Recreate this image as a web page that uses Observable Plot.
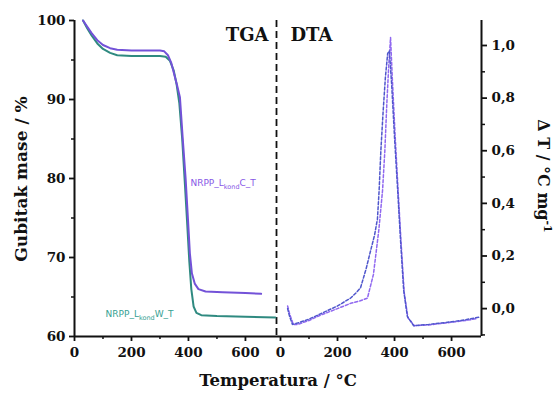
<!DOCTYPE html>
<html><head><meta charset="utf-8">
<script src="https://cdn.jsdelivr.net/npm/d3@7"></script>
<script src="https://cdn.jsdelivr.net/npm/@observablehq/plot@0.6"></script>
<style>
body{margin:0;background:#fff}
#chart{position:relative;width:557px;height:394px}
#chart svg{position:absolute;left:0;top:0;background:transparent;overflow:visible}
</style>
</head><body><div id="chart"></div>
<script>
// TGA — NRPP_L kond C_T (purple)
const tgaTempC = [30,45,60,80,100,125,150,200,250,300,315,328,340,350,360,370,380,390,398,405,412,422,435,460,520,600,655];
const tgaMassC = [100,99.2,98.4,97.5,96.9,96.5,96.3,96.2,96.2,96.2,96.1,95.6,94.6,93.2,91.8,90.3,85,80,75,70.5,68,66.7,66.0,65.7,65.6,65.5,65.4];
// TGA — NRPP_L kond W_T (teal)
const tgaTempW = [30,45,60,80,100,125,150,200,300,320,335,348,358,368,378,388,396,403,410,418,428,445,500,600,705];
const tgaMassW = [100,99,98.1,97.1,96.4,95.9,95.6,95.5,95.5,95.4,94.9,93.7,92,89.5,85,79,74,69.5,66,63.8,63,62.7,62.6,62.5,62.4];
// DTA curve A (purple)
const dtaTempA = [25,32,45,60,100,140,200,246,280,305,326,345,358,366,373,380,386,392,402,413,423,434,447,470,520,600,650,690];
const dtaValA  = [0.01,-0.02,-0.06,-0.06,-0.045,-0.025,0.0,0.02,0.03,0.04,0.13,0.3,0.45,0.6,0.78,0.93,1.03,0.88,0.66,0.44,0.25,0.06,-0.035,-0.065,-0.062,-0.052,-0.045,-0.038];
// DTA curve B (blue)
const dtaTempB = [25,32,42,60,100,140,200,246,265,281,300,316,330,340,346,352,360,368,376,382,390,400,411,421,432,445,467,520,600,650,700];
const dtaValB  = [0.0,-0.03,-0.06,-0.055,-0.04,-0.02,0.01,0.04,0.06,0.08,0.15,0.22,0.28,0.34,0.45,0.6,0.75,0.88,0.97,0.98,0.85,0.65,0.45,0.26,0.07,-0.03,-0.065,-0.06,-0.05,-0.042,-0.032];

const tempTicks = [0,200,400,600];
const tempMinor = [100,300,500];
const massTicks = [60,70,80,90,100];
const massMinor = [65,75,85,95];
const dtaTicks = [0,0.2,0.4,0.6,0.8,1.0];
const dtaMinor = [-0.1,0.1,0.3,0.5,0.7,0.9];

const seriesLabels = ["NRPP_L|kond|C_T", "NRPP_L|kond|W_T"];
const labelTemps = [407, 109];
const labelMass = [79.1, 62.5];

const panelTitles = ["TGA", "DTA"];
const xTitle = "Temperatura / °C";
const yTitleLeft = "Gubitak mase / %";
const yTitleRight = "Δ T / °C mg";

const colC = "#7352d8", colW = "#2f8a80";
const colA = "#9068f0", colB = "#4f56cc";

const curveC = tgaTempC.map((t,i) => ({T:t, v:tgaMassC[i]}));
const curveW = tgaTempW.map((t,i) => ({T:t, v:tgaMassW[i]}));
const curveA = dtaTempA.map((t,i) => ({T:t, v:dtaValA[i]}));
const curveB = dtaTempB.map((t,i) => ({T:t, v:dtaValB[i]}));
const labels = seriesLabels.map((s,i) => ({s, T:labelTemps[i], v:labelMass[i], c:i===0?"#8758e6":"#36a192"}));

const fmt = d => d3.format(".1f")(d).replace(".", ",");
const style = {fontFamily:"'DejaVu Serif', serif", fontWeight:"bold", fontSize:"13.5px", background:"transparent", color:"#111"};
const W = 557, H = 394;

const left = Plot.plot({
  width: W, height: H, marginLeft: 74, marginRight: 281, marginTop: 20, marginBottom: 58,
  style,
  x: {domain:[0,709], label:null}, y: {domain:[60,100], label:null},
  marks: [
    Plot.axisY(massTicks, {tickSize:5, tickPadding:4, strokeWidth:1.8, label:null}),
    Plot.axisY(massMinor, {tickSize:3, strokeWidth:1.5, tickFormat:() => "", label:null}),
    Plot.axisX(tempTicks, {tickSize:5, tickPadding:6, strokeWidth:1.8, label:null}),
    Plot.axisX(tempMinor, {tickSize:3, strokeWidth:1.5, tickFormat:() => "", label:null}),
    Plot.ruleX([0], {strokeWidth:2}),
    Plot.ruleY([60], {strokeWidth:2}),
    Plot.ruleX([709], {strokeWidth:1.8, strokeDasharray:"7,4"}),
    Plot.line(curveW, {x:"T", y:"v", stroke:colW, strokeWidth:2}),
    Plot.line(curveC, {x:"T", y:"v", stroke:colC, strokeWidth:2}),
    Plot.text(labels, {x:"T", y:"v", text:"s", fill:"c", textAnchor:"start", lineAnchor:"bottom", fontSize:9, fontWeight:"normal", fontFamily:"'DejaVu Sans', sans-serif"}),
    Plot.text([panelTitles[0]], {frameAnchor:"top-right", dx:-8, dy:15, lineAnchor:"middle", fontSize:18})
  ]
});

const right = Plot.plot({
  width: W, height: H, marginLeft: 276, marginRight: 76, marginTop: 20, marginBottom: 58,
  style,
  x: {domain:[-14,705], label:null}, y: {domain:[-0.106,1.095], label:null},
  marks: [
    Plot.axisY(dtaTicks, {anchor:"right", tickSize:5, tickPadding:5, strokeWidth:1.8, tickFormat:fmt, label:null}),
    Plot.axisY(dtaMinor.filter(d => d > -0.106), {anchor:"right", tickSize:3, strokeWidth:1.5, tickFormat:() => "", label:null}),
    Plot.axisX(tempTicks, {tickSize:5, tickPadding:6, strokeWidth:1.8, label:null}),
    Plot.axisX(tempMinor, {tickSize:3, strokeWidth:1.5, tickFormat:() => "", label:null}),
    Plot.ruleX([705], {strokeWidth:2}),
    Plot.ruleY([-0.106], {strokeWidth:2}),
    Plot.line(curveA, {x:"T", y:"v", stroke:colA, strokeWidth:1.5, strokeDasharray:"3,2"}),
    Plot.line(curveB, {x:"T", y:"v", stroke:colB, strokeWidth:1.5, strokeDasharray:"3,2"}),
    Plot.text([panelTitles[1]], {frameAnchor:"top-left", dx:14, dy:15, lineAnchor:"middle", fontSize:18})
  ]
});

const chart = document.getElementById("chart");
chart.append(left, right);

// subscripts in series labels
d3.select(left).selectAll("text").filter(function(){ return this.textContent.includes("|"); }).each(function(){
  const parts = this.textContent.split("|");
  const t = d3.select(this); t.text(null);
  t.append("tspan").text(parts[0]);
  t.append("tspan").attr("dy", 3).attr("font-size", 6.5).text(parts[1]);
  t.append("tspan").attr("dy", -3).text(parts[2]);
});

// axis titles
const svg = d3.select(right);
const tf = "'DejaVu Serif', serif";
svg.append("text").attr("x", 278).attr("y", 386).attr("text-anchor","middle")
  .attr("font-family", tf).attr("font-weight","bold").attr("font-size", 16.5).attr("fill","#111").text(xTitle);
svg.append("text").attr("transform","translate(27,179) rotate(-90)").attr("text-anchor","middle")
  .attr("font-family", tf).attr("font-weight","bold").attr("font-size", 17).attr("fill","#111").text(yTitleLeft);
const rt = svg.append("text").attr("transform","translate(538,176) rotate(90)").attr("text-anchor","middle")
  .attr("font-family", tf).attr("font-weight","bold").attr("font-size", 16).attr("fill","#111");
rt.append("tspan").text(yTitleRight);
rt.append("tspan").attr("dy", -6).attr("font-size", 11).text("-1");
</script>
</body></html>
